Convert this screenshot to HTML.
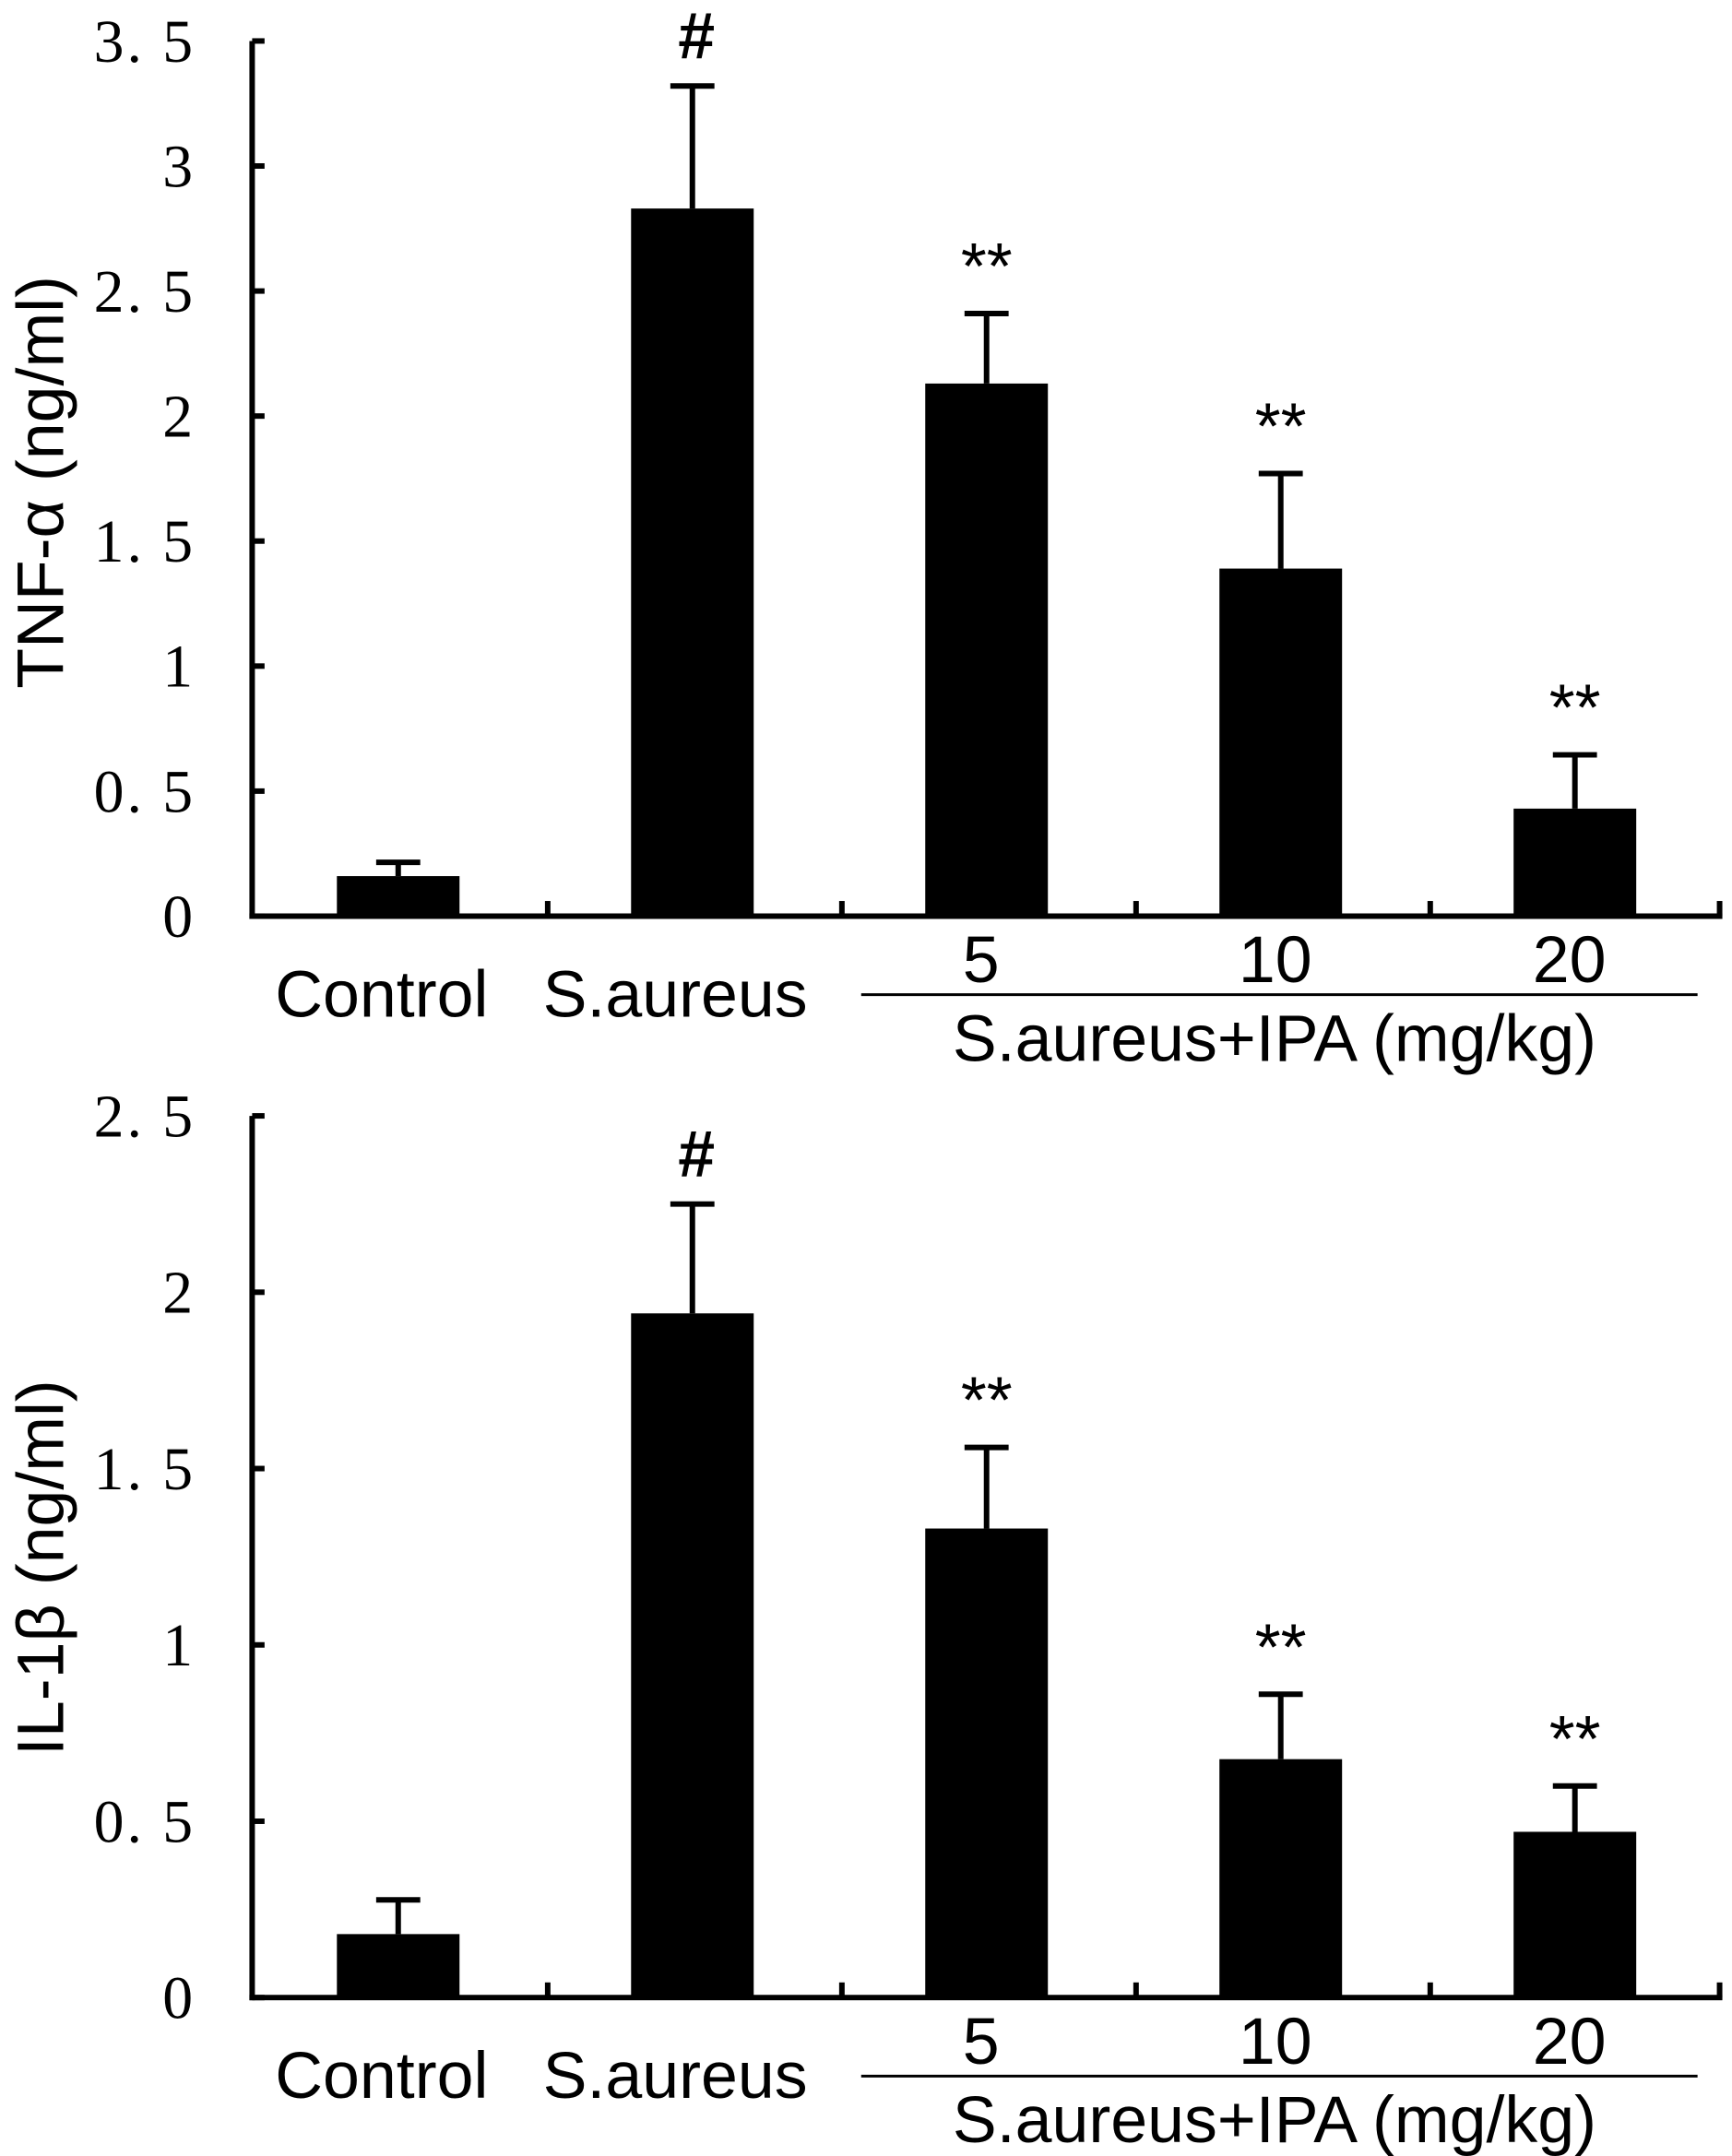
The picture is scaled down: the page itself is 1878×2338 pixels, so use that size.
<!DOCTYPE html>
<html><head><meta charset="utf-8">
<style>
html,body{margin:0;padding:0;background:#fff;}
svg{display:block;}
.tick{font-family:"Liberation Serif","Noto Serif CJK SC",serif;font-size:44px;fill:#000;letter-spacing:2px;}
.lab{font-family:"Liberation Sans",sans-serif;font-size:48px;fill:#000;}
</style></head>
<body>
<svg id="chart" width="1878" height="2338" viewBox="0 0 1257 1565" preserveAspectRatio="none" xmlns="http://www.w3.org/2000/svg">
<rect width="1257" height="1565" fill="#fff"/>
</svg>
<script>
const categories = ["Control","S.aureus","5","10","20"];
const tnfValues = [0.16, 2.83, 2.13, 1.39, 0.43];
const tnfErrTop = [0.215, 3.32, 2.41, 1.77, 0.645];
const tnfMarks = ["", "#", "**", "**", "**"];
const tnfTicks = ["0","0. 5","1","1. 5","2","2. 5","3","3. 5"];
const il1Values = [0.18, 1.94, 1.33, 0.676, 0.47];
const il1ErrTop = [0.277, 2.25, 1.56, 0.86, 0.60];
const il1Marks = ["", "#", "**", "**", "**"];
const il1Ticks = ["0","0. 5","1","1. 5","2","2. 5"];

const svg = document.getElementById('chart');
const NS = "http://www.w3.org/2000/svg";
function mk(tag, attrs, parent){
  const e = document.createElementNS(NS, tag);
  for (const k in attrs) e.setAttribute(k, attrs[k]);
  (parent||svg).appendChild(e);
  return e;
}
const x0 = 183, x1 = 1250, step = 213.5, firstCenter = 289, barW = 89;
function xPos(i){ return firstCenter + i*step; }

function panel(opt){
  const g = mk('g', {});
  
  
  const yPos = v => opt.base - v*opt.ppu;
  const maxV = (opt.ticks.length-1)*0.5;
  const ya = mk('line', {x1:x0, y1:yPos(maxV), x2:x0, y2:opt.base+2, stroke:'#000','stroke-width':4}, g);
  
  
  const xa = mk('line', {x1:x0-2, y1:opt.base, x2:x1, y2:opt.base, stroke:'#000','stroke-width':4}, g);
  
  
  opt.ticks.forEach((t,i)=>{
    const y = yPos(i*0.5);
    mk('line', {x1:x0, y1:y, x2:x0+9, y2:y, stroke:'#000','stroke-width':4}, g);
    const tx = mk('text', {x:142, y:y+15, 'text-anchor':'end', class:'tick'}, g);
    tx.textContent = t;
    
    
  });
  for (let i=1;i<=5;i++){
    const xx = (i<5) ? x0 + i*step + 1 : x1-2;
    mk('line', {x1:xx, y1:opt.base, x2:xx, y2:opt.base-11, stroke:'#000','stroke-width':4}, g);
  }
  opt.values.forEach((v,i)=>{
    const cx = xPos(i);
    const b = mk('rect', {x:cx-barW/2, y:yPos(v), width:barW, height:opt.base-yPos(v), fill:'#000'}, g);
    
    
    const et = yPos(opt.err[i]);
    const e1 = mk('line', {x1:cx, y1:yPos(v), x2:cx, y2:et, stroke:'#000','stroke-width':4}, g);
    
    
    mk('line', {x1:cx-16, y1:et, x2:cx+16, y2:et, stroke:'#000','stroke-width':4}, g);
    if (opt.marks[i]){
      const m = mk('text', {x:cx+(i===1?3:0), y:et-(i===1?20:18), 'text-anchor':'middle', class:'lab', 'font-size':i===1?44:42, 'font-weight':i===1?'bold':'normal'}, g);
      m.textContent = opt.marks[i];
      
      
    }
  });
  const c1 = mk('text', {x:277, y:opt.base+73, 'text-anchor':'middle', class:'lab'}, g);
  c1.textContent = categories[0];
  
  
  const c2 = mk('text', {x:490, y:opt.base+73, 'text-anchor':'middle', class:'lab'}, g);
  c2.textContent = categories[1];
  
  
  for (let i=2;i<5;i++){
    const d = mk('text', {x:xPos(i)-4, y:opt.base+48, 'text-anchor':'middle', class:'lab', 'font-size':44}, g);
    d.textContent = categories[i];
    
    
  }
  const gl = mk('line', {x1:625, y1:opt.base+57, x2:1232, y2:opt.base+57, stroke:'#000','stroke-width':2}, g);
  
  
  const gt = mk('text', {x:925, y:opt.base+105, 'text-anchor':'middle', class:'lab', 'font-size':50}, g);
  gt.textContent = 'S.aureus+IPA (mg/kg)';
  
  
  const yt = mk('text', {x:0, y:0, 'text-anchor':'middle', class:'lab', 'font-size':52, transform:'translate(46,'+opt.ylabY+') rotate(-90)'}, g);
  yt.textContent = opt.ylabel;
  
  
}
panel({name:'tnf-panel', base:665, ppu:181.5, ticks:tnfTicks, values:tnfValues, err:tnfErrTop, marks:tnfMarks, ylabel:'TNF-α (ng/ml)', ylabY:350});
panel({name:'il1-panel', base:1450, ppu:256, ticks:il1Ticks, values:il1Values, err:il1ErrTop, marks:il1Marks, ylabel:'IL-1β (ng/ml)', ylabY:1138});
</script>
</body></html>
